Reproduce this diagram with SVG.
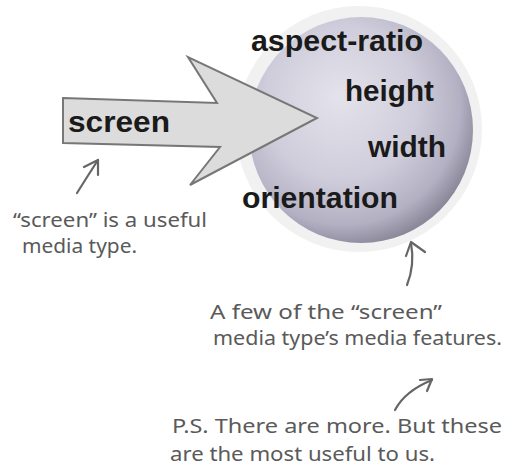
<svg xmlns="http://www.w3.org/2000/svg" width="507" height="469" viewBox="0 0 507 469">
  <style>
    .lbl { font-family: "Liberation Sans", Arial, sans-serif; font-weight: bold; font-size: 30px; fill: #1a1a1a; }
    .note { font-family: "Noto Sans", "Open Sans", sans-serif; font-size: 19px; fill: #5a5a5a; }
    .pen { fill: none; stroke: #666; stroke-width: 2.2; stroke-linecap: round; stroke-linejoin: round; }
  </style>
  <defs>
    <radialGradient id="ball" cx="0.42" cy="0.4" r="0.62" fx="0.4" fy="0.35">
      <stop offset="0" stop-color="#e4e3eb"/>
      <stop offset="0.55" stop-color="#cfcddb"/>
      <stop offset="0.85" stop-color="#b3b0c3"/>
      <stop offset="1" stop-color="#8b889a"/>
    </radialGradient>
  </defs>
  <rect width="507" height="469" fill="#ffffff"/>

  <g id="sphere">
    <circle cx="359" cy="129" r="123" fill="#f1f1f2"/>
    <ellipse cx="361" cy="130" rx="112" ry="113" fill="url(#ball)"/>
  </g>

  <g id="screen-arrow">
    <polygon points="63,98 217,103 188,57 317,118 190,185 220,147 63,143" fill="#dcdcdc" stroke="#777" stroke-width="2"/>
    <text class="lbl" x="68" y="132" textLength="102" lengthAdjust="spacingAndGlyphs">screen</text>
  </g>

  <g id="features">
    <text class="lbl" x="251" y="51" textLength="172" lengthAdjust="spacingAndGlyphs">aspect-ratio</text>
    <text class="lbl" x="345" y="101" textLength="89" lengthAdjust="spacingAndGlyphs">height</text>
    <text class="lbl" x="368" y="157" textLength="78" lengthAdjust="spacingAndGlyphs">width</text>
    <text class="lbl" x="242" y="208" textLength="156" lengthAdjust="spacingAndGlyphs">orientation</text>
  </g>

  <g id="connectors">
    <path class="pen" d="M77,193 Q87,177 98,160"/>
    <path class="pen" d="M84,167 L98,160 L98,175"/>
    <path class="pen" d="M407,285 Q415,265 411,243"/>
    <path class="pen" d="M406,256 L411,242 L425,252"/>
    <path class="pen" d="M395,410 Q405,391 432,380"/>
    <path class="pen" d="M420,380 L432,379 L427,391"/>
  </g>

  <g id="note-screen">
    <text class="note" x="13" y="227" textLength="194" lengthAdjust="spacingAndGlyphs">“screen” is a useful</text>
    <text class="note" x="22" y="253" textLength="115" lengthAdjust="spacingAndGlyphs">media type.</text>
  </g>

  <g id="note-features">
    <text class="note" x="210" y="319" textLength="232" lengthAdjust="spacingAndGlyphs">A few of the “screen”</text>
    <text class="note" x="213" y="345" textLength="289" lengthAdjust="spacingAndGlyphs">media type’s media features.</text>
  </g>

  <g id="note-ps">
    <text class="note" x="172" y="433" textLength="330" lengthAdjust="spacingAndGlyphs">P.S. There are more. But these</text>
    <text class="note" x="170" y="461" textLength="265" lengthAdjust="spacingAndGlyphs">are the most useful to us.</text>
  </g>
</svg>
